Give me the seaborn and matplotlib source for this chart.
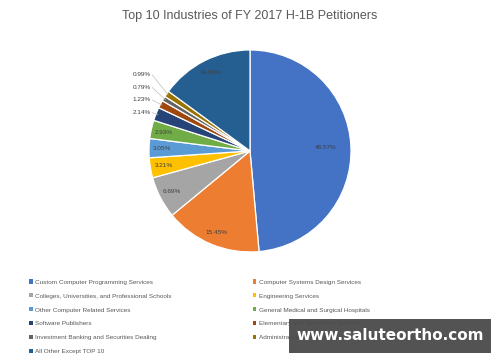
import numpy as np
import matplotlib
matplotlib.use("Agg")
import matplotlib.pyplot as plt
import seaborn as sns
from matplotlib.patches import Patch, Rectangle

# data (clockwise from 12 o'clock)
industries = [
    "Custom Computer Programming Services",
    "Computer Systems Design Services",
    "Colleges, Universities, and Professional Schools",
    "Engineering Services",
    "Other Computer Related Services",
    "General Medical and Surgical Hospitals",
    "Software Publishers",
    "Elementary and Secondary Schools",
    "Investment Banking and Securities Dealing",
    "Administrative Management and General Management Consulting Services",
    "All Other Except TOP 10",
]
shares = [48.57, 15.45, 6.69, 3.21, 3.05, 2.93, 2.14, 1.23, 0.79, 0.99, 14.95]
colors = ["#4472C4", "#ED7D31", "#A5A5A5", "#FFC000", "#5B9BD5", "#70AD47",
          "#264478", "#9E480E", "#636363", "#997300", "#255E91"]

sns.set_theme(style="white")
plt.rcParams['font.family'] = ['Liberation Sans', 'DejaVu Sans']

fig = plt.figure(figsize=(5, 3.62), dpi=100)
ax = fig.add_axes([0.298, 0.304, 0.404, 0.558])

wedges, _ = ax.pie(shares, colors=colors, startangle=90, counterclock=False,
                   wedgeprops=dict(edgecolor="white", linewidth=0.9))
ax.set_xlim(-1, 1)
ax.set_ylim(-1, 1)
ax.set_aspect("equal")
ax.axis("off")

txt_col = "#404040"
outside = [6, 7, 8, 9]
k = 0
for i, w in enumerate(wedges):
    ang = np.deg2rad((w.theta1 + w.theta2) / 2)
    lab = f"{shares[i]:.2f}%"
    if i in outside:
        ty = 0.38 + 0.125 * k
        tx = -0.98
        ax.text(tx, ty, lab, ha="right", va="center", fontsize=4.6, color=txt_col)
        ex, ey = 0.98 * np.cos(ang), 0.98 * np.sin(ang)
        ax.plot([tx + 0.01, ex], [ty, ey], color="#BFBFBF", lw=0.5, clip_on=False)
        k += 1
    else:
        r = 0.75 if i == 0 else 0.87
        ax.text(r * np.cos(ang), r * np.sin(ang), lab, ha="center", va="center",
                fontsize=4.6, color=txt_col)

fig.text(0.5, 0.956, "Top 10 Industries of FY 2017 H-1B Petitioners",
         ha="center", va="center", fontsize=9, color="#595959")

handles = [Patch(facecolor=c, edgecolor="none") for c in colors]
left_idx = [0, 2, 4, 6, 8, 10]
right_idx = [1, 3, 5, 7, 9]
for idx, x0 in [(left_idx, 0.058), (right_idx, 0.505)]:
    fig.legend([handles[i] for i in idx], [industries[i] for i in idx],
               loc="upper left", bbox_to_anchor=(x0, 0.228), frameon=False,
               fontsize=4.6, labelcolor="#595959", handlelength=0.6,
               handleheight=0.6, handletextpad=0.4, labelspacing=1.35,
               borderaxespad=0, borderpad=0)

# watermark box on top of the legend
fig.patches.append(Rectangle((0.578, 0.025), 0.404, 0.094, transform=fig.transFigure,
                             facecolor="#4a4a4a", edgecolor="none", alpha=0.95,
                             zorder=10))
fig.text(0.78, 0.072, "www.saluteortho.com", ha="center", va="center",
         fontsize=11, fontweight="bold", color="white", family="DejaVu Sans",
         zorder=11)

fig.savefig("out.png", dpi=100, facecolor="white")
